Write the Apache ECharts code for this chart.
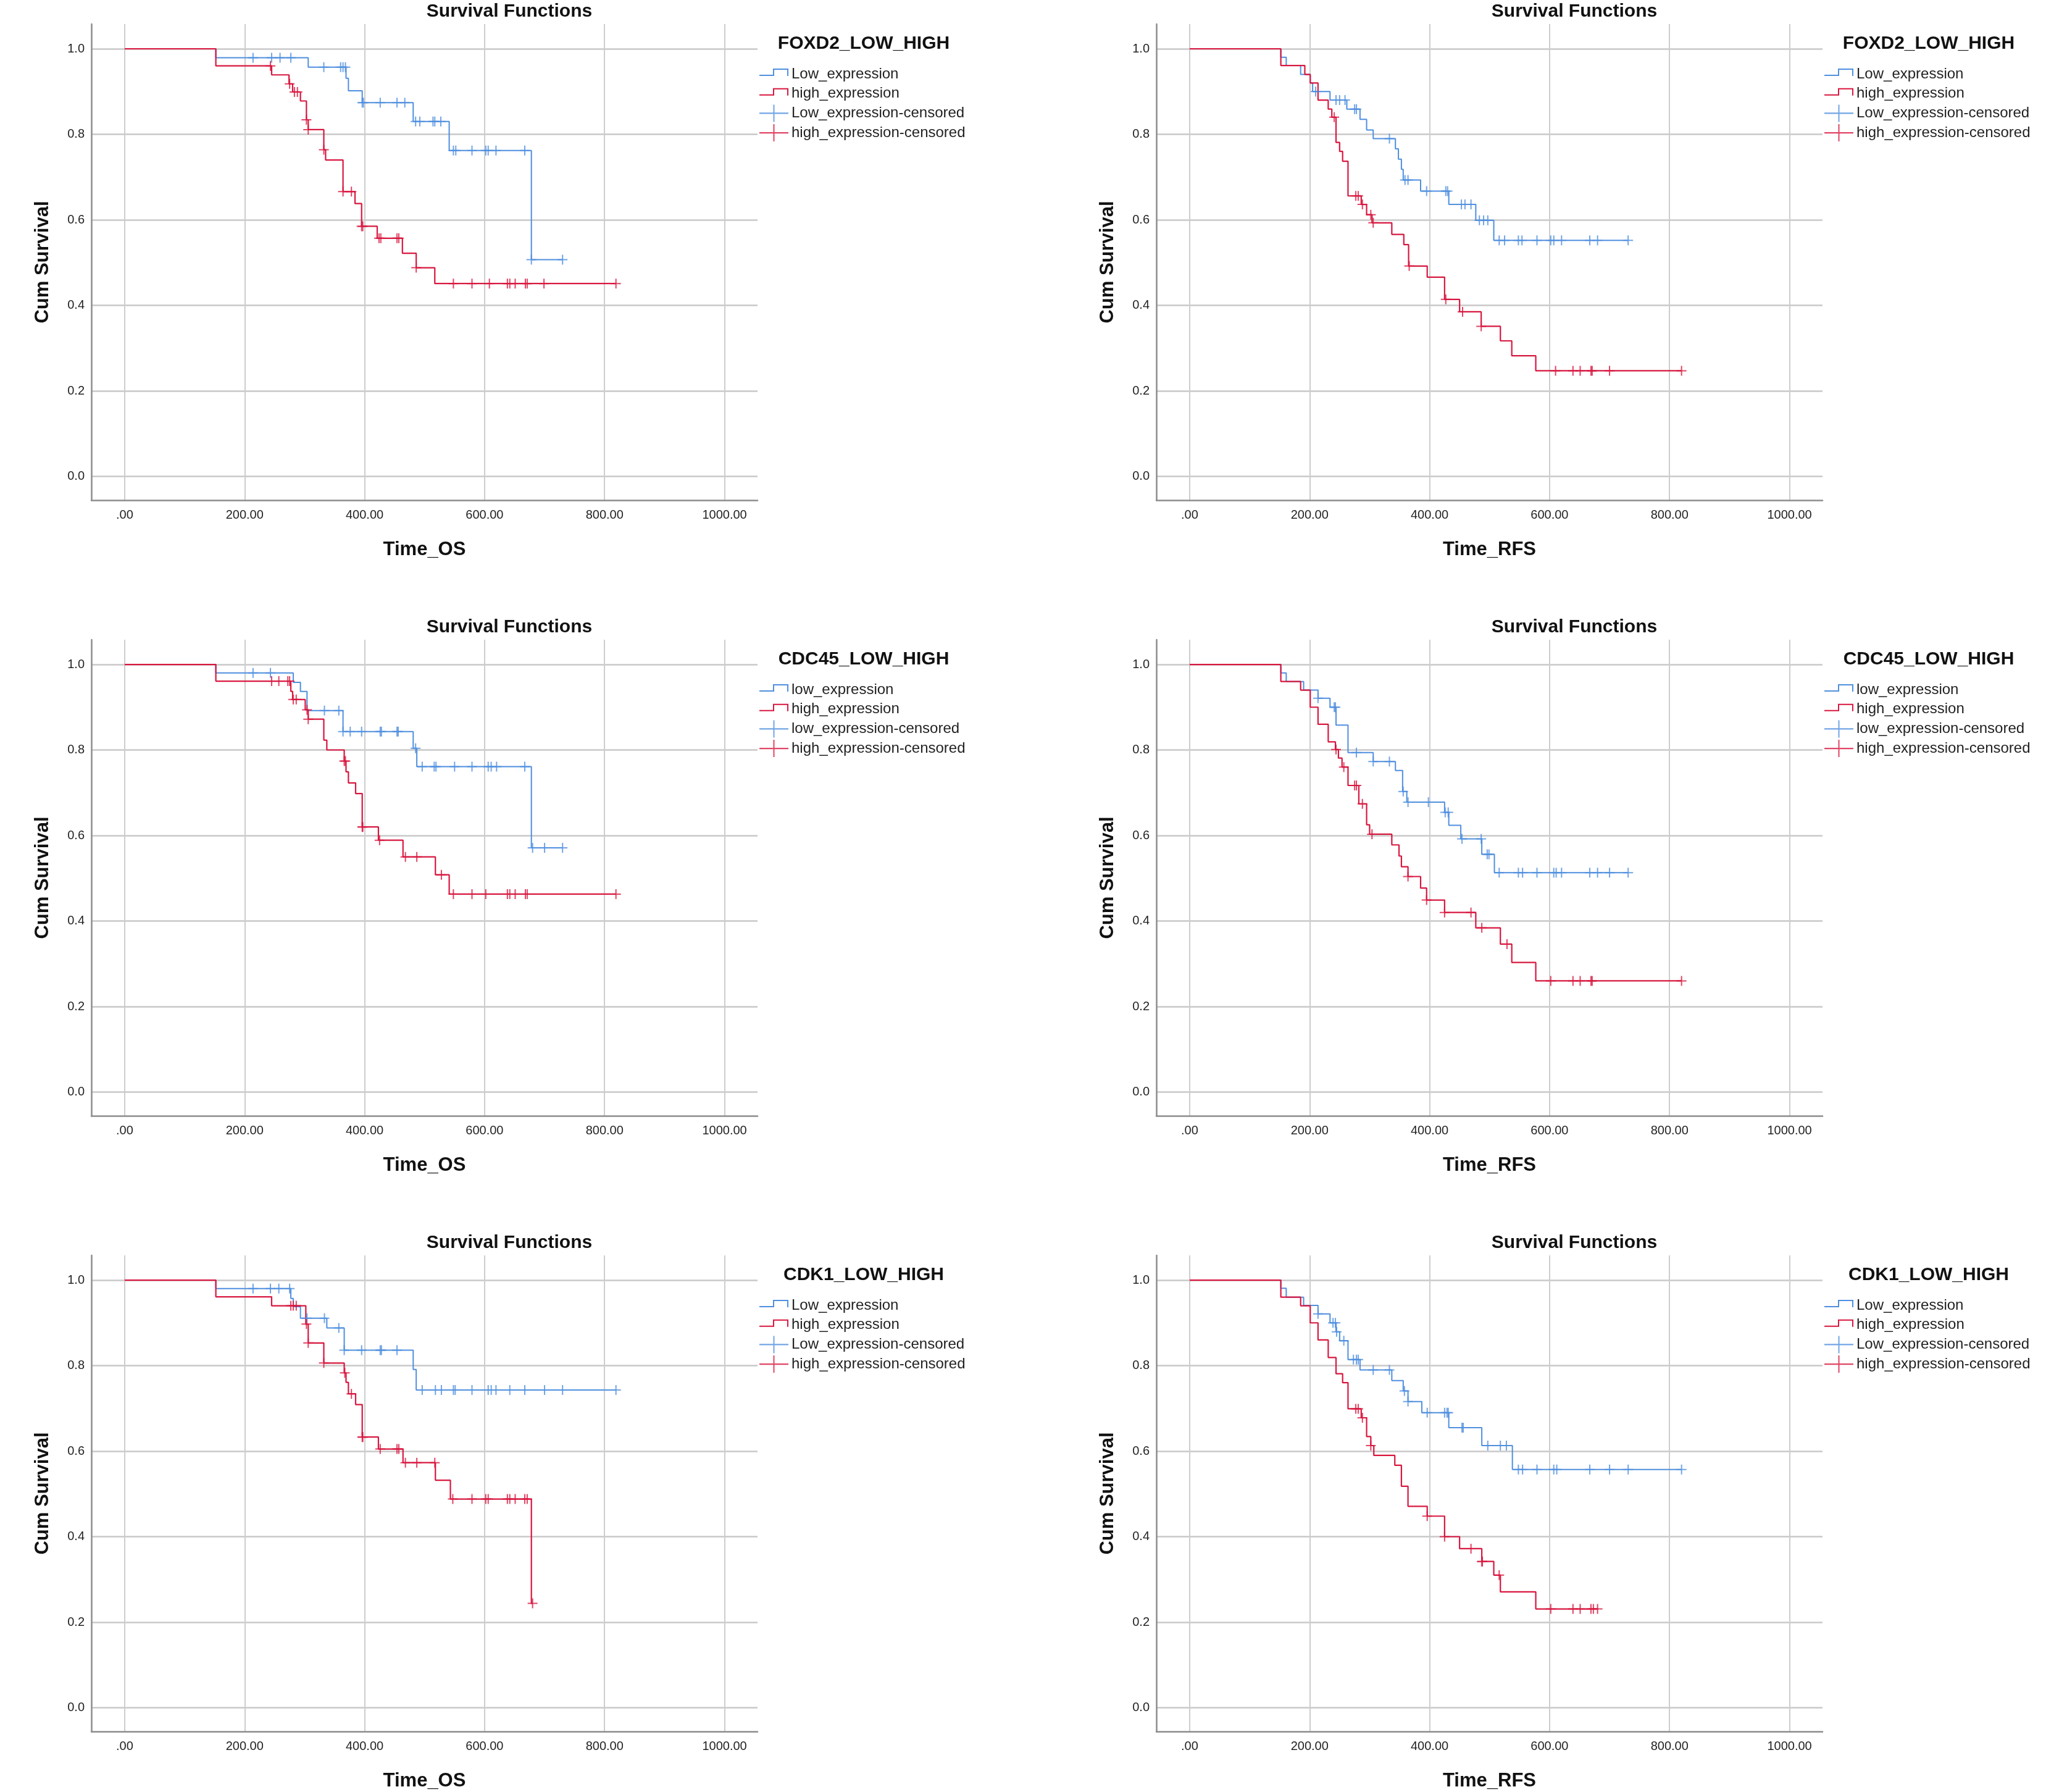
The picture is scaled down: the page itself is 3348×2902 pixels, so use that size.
<!DOCTYPE html>
<html><head><meta charset="utf-8">
<script src="https://cdn.jsdelivr.net/npm/echarts@6/dist/echarts.min.js"></script>
<style>html,body{margin:0;padding:0;background:#fff}#c{width:3348px;height:2902px}</style>
</head><body><div id="c"></div><script>
// ---------- tick labels ----------
const xTickValues = [0, 200, 400, 600, 800, 1000];
const xTickLabels = ['.00', '200.00', '400.00', '600.00', '800.00', '1000.00'];
const yTickValues = [0, 0.2, 0.4, 0.6, 0.8, 1.0];
const yTickLabels = ['0.0', '0.2', '0.4', '0.6', '0.8', '1.0'];

// ---------- FOXD2, Time_OS ----------
const foxd2OsLowTime = [152, 306, 369, 373, 396, 481, 541, 678];
const foxd2OsLowSurv = [0.979, 0.957, 0.931, 0.902, 0.874, 0.830, 0.762, 0.507];
const foxd2OsLowCens = [214, 245, 259, 277, 332, 360, 364, 368, 396, 398, 426, 454, 467, 485, 492, 514, 517, 527, 548, 552, 579, 602, 606, 619, 667, 678, 730];
const foxd2OsHighTime = [152, 245, 274, 280, 293, 303, 306, 332, 335, 364, 384, 395, 421, 463, 486, 517];
const foxd2OsHighSurv = [0.960, 0.939, 0.918, 0.899, 0.878, 0.834, 0.811, 0.764, 0.740, 0.666, 0.638, 0.585, 0.557, 0.522, 0.488, 0.451];
const foxd2OsHighCens = [243, 275, 283, 288, 303, 306, 332, 364, 378, 395, 397, 424, 427, 454, 457, 486, 548, 579, 608, 638, 642, 651, 668, 671, 699, 819];

// ---------- FOXD2, Time_RFS ----------
const foxd2RfsLowTime = [152, 161, 185, 201, 205, 234, 262, 284, 295, 306, 343, 348, 353, 356, 385, 432, 477, 507];
const foxd2RfsLowSurv = [0.980, 0.961, 0.940, 0.920, 0.900, 0.880, 0.859, 0.835, 0.810, 0.790, 0.766, 0.742, 0.718, 0.693, 0.667, 0.636, 0.599, 0.552];
const foxd2RfsLowCens = [210, 244, 250, 259, 275, 278, 333, 359, 364, 395, 427, 430, 453, 459, 469, 483, 490, 497, 516, 525, 548, 554, 579, 602, 607, 620, 667, 680, 731];
const foxd2RfsHighTime = [152, 192, 201, 214, 231, 237, 244, 250, 255, 264, 286, 295, 304, 337, 357, 365, 396, 425, 450, 486, 518, 537, 577];
const foxd2RfsHighSurv = [0.961, 0.940, 0.920, 0.880, 0.859, 0.840, 0.781, 0.760, 0.737, 0.656, 0.636, 0.612, 0.593, 0.566, 0.542, 0.492, 0.466, 0.414, 0.385, 0.351, 0.317, 0.282, 0.247];
const foxd2RfsHighCens = [241, 277, 281, 288, 302, 306, 366, 427, 455, 486, 610, 639, 651, 669, 671, 700, 820];

// ---------- CDC45, Time_OS ----------
const cdc45OsLowTime = [152, 281, 293, 304, 364, 481, 487, 678];
const cdc45OsLowSurv = [0.980, 0.958, 0.937, 0.892, 0.843, 0.804, 0.761, 0.571];
const cdc45OsLowCens = [214, 243, 333, 357, 364, 376, 395, 426, 428, 454, 456, 485, 496, 516, 519, 550, 579, 606, 611, 620, 667, 680, 700, 730];
const cdc45OsHighTime = [152, 277, 280, 301, 306, 332, 337, 366, 369, 373, 385, 396, 423, 464, 518, 541];
const cdc45OsHighSurv = [0.961, 0.937, 0.918, 0.894, 0.872, 0.823, 0.800, 0.774, 0.749, 0.723, 0.698, 0.620, 0.589, 0.550, 0.508, 0.463];
const cdc45OsHighCens = [245, 257, 272, 275, 281, 286, 304, 306, 366, 368, 396, 397, 425, 468, 487, 528, 548, 579, 602, 638, 642, 651, 668, 671, 819];

// ---------- CDC45, Time_RFS ----------
const cdc45RfsLowTime = [152, 161, 190, 214, 234, 244, 264, 306, 343, 355, 362, 425, 432, 452, 487, 508];
const cdc45RfsLowSurv = [0.980, 0.960, 0.940, 0.921, 0.900, 0.858, 0.794, 0.773, 0.752, 0.703, 0.678, 0.654, 0.624, 0.592, 0.556, 0.513];
const cdc45RfsLowCens = [214, 241, 243, 278, 306, 333, 356, 364, 398, 426, 431, 454, 486, 496, 499, 516, 548, 555, 579, 607, 611, 620, 667, 680, 700, 731];
const cdc45RfsHighTime = [152, 185, 201, 214, 231, 243, 248, 254, 264, 282, 295, 300, 337, 349, 353, 364, 385, 395, 425, 477, 518, 537, 577];
const cdc45RfsHighSurv = [0.960, 0.940, 0.900, 0.860, 0.819, 0.801, 0.781, 0.760, 0.717, 0.674, 0.625, 0.603, 0.578, 0.552, 0.527, 0.504, 0.477, 0.449, 0.420, 0.384, 0.346, 0.303, 0.260];
const cdc45RfsHighCens = [244, 257, 275, 278, 288, 304, 364, 395, 425, 469, 487, 529, 602, 639, 651, 669, 671, 820];

// ---------- CDK1, Time_OS ----------
const cdk1OsLowTime = [152, 277, 281, 293, 337, 366, 481, 486];
const cdk1OsLowSurv = [0.980, 0.957, 0.938, 0.911, 0.888, 0.836, 0.791, 0.743];
const cdk1OsLowCens = [214, 243, 257, 275, 304, 333, 357, 366, 395, 426, 428, 454, 496, 518, 528, 548, 551, 579, 606, 611, 619, 642, 667, 700, 730, 819];
const cdk1OsHighTime = [152, 245, 302, 306, 332, 366, 369, 373, 385, 396, 423, 464, 518, 543, 678];
const cdk1OsHighSurv = [0.961, 0.940, 0.897, 0.853, 0.806, 0.783, 0.761, 0.734, 0.709, 0.633, 0.605, 0.573, 0.532, 0.488, 0.244];
const cdk1OsHighCens = [277, 281, 286, 303, 306, 332, 367, 378, 396, 397, 426, 454, 457, 468, 487, 517, 547, 579, 602, 606, 638, 642, 651, 667, 671, 680];

// ---------- CDK1, Time_RFS ----------
const cdk1RfsLowTime = [152, 161, 190, 214, 234, 244, 250, 264, 284, 337, 356, 364, 387, 432, 487, 538];
const cdk1RfsLowSurv = [0.981, 0.960, 0.941, 0.921, 0.900, 0.879, 0.858, 0.814, 0.790, 0.765, 0.741, 0.716, 0.690, 0.655, 0.613, 0.557];
const cdk1RfsLowCens = [214, 239, 243, 245, 257, 273, 278, 281, 306, 333, 358, 364, 396, 425, 429, 431, 454, 456, 497, 518, 528, 548, 555, 579, 607, 612, 667, 700, 731, 820];
const cdk1RfsHighTime = [152, 185, 201, 214, 231, 244, 255, 264, 286, 295, 302, 307, 342, 353, 364, 396, 425, 450, 487, 507, 518, 577];
const cdk1RfsHighSurv = [0.960, 0.940, 0.900, 0.860, 0.819, 0.781, 0.760, 0.699, 0.678, 0.634, 0.613, 0.590, 0.567, 0.518, 0.471, 0.448, 0.400, 0.372, 0.342, 0.310, 0.271, 0.231];
const cdk1RfsHighCens = [277, 281, 288, 302, 396, 425, 469, 487, 488, 516, 602, 639, 651, 669, 673, 680];

// ---------- panel texts ----------
const groupTitles = ['FOXD2_LOW_HIGH', 'FOXD2_LOW_HIGH', 'CDC45_LOW_HIGH', 'CDC45_LOW_HIGH', 'CDK1_LOW_HIGH', 'CDK1_LOW_HIGH'];
const xAxisNames = ['Time_OS', 'Time_RFS', 'Time_OS', 'Time_RFS', 'Time_OS', 'Time_RFS'];
const lowNames = ['Low_expression', 'Low_expression', 'low_expression', 'low_expression', 'Low_expression', 'Low_expression'];
const highName = 'high_expression';
const chartTitle = 'Survival Functions';
const yAxisName = 'Cum Survival';

// ---------- build ----------
const panels = [
  [foxd2OsLowTime, foxd2OsLowSurv, foxd2OsLowCens, foxd2OsHighTime, foxd2OsHighSurv, foxd2OsHighCens],
  [foxd2RfsLowTime, foxd2RfsLowSurv, foxd2RfsLowCens, foxd2RfsHighTime, foxd2RfsHighSurv, foxd2RfsHighCens],
  [cdc45OsLowTime, cdc45OsLowSurv, cdc45OsLowCens, cdc45OsHighTime, cdc45OsHighSurv, cdc45OsHighCens],
  [cdc45RfsLowTime, cdc45RfsLowSurv, cdc45RfsLowCens, cdc45RfsHighTime, cdc45RfsHighSurv, cdc45RfsHighCens],
  [cdk1OsLowTime, cdk1OsLowSurv, cdk1OsLowCens, cdk1OsHighTime, cdk1OsHighSurv, cdk1OsHighCens],
  [cdk1RfsLowTime, cdk1RfsLowSurv, cdk1RfsLowCens, cdk1RfsHighTime, cdk1RfsHighSurv, cdk1RfsHighCens]
];

const BLUE = '#4F8FDF';
const RED = '#D8173F';
const FONT = '"Liberation Sans", Arial, Helvetica, sans-serif';
const plusSymbol = 'path://M0,7L16,7L16,9L0,9ZM7,0L9,0L9,16L7,16Z';
const stepIcon = 'path://M0,0M47,28M0,15L24,15L24,17L0,17ZM22,5L24,5L24,17L22,17ZM22,5L47,5L47,7L22,7ZM45,5L47,5L47,17L45,17Z';
const crossIcon = 'path://M0,0M47,28M0,12.8L47,12.8L47,15.2L0,15.2ZM22.5,0L24.5,0L24.5,28L22.5,28Z';

function stepPoints(times, surv, cens) {
  const pts = [[0, 1]];
  times.forEach((t, i) => pts.push([t, surv[i]]));
  const lastT = times[times.length - 1];
  const lastC = cens.length ? cens[cens.length - 1] : 0;
  if (lastC > lastT) pts.push([lastC, surv[surv.length - 1]]);
  return pts;
}
function survAt(times, surv, t) {
  let s = 1;
  for (let i = 0; i < times.length; i++) if (times[i] <= t) s = surv[i];
  return s;
}
function labelFor(values, labels, v) {
  let best = 0;
  for (let i = 1; i < values.length; i++) if (Math.abs(values[i] - v) < Math.abs(values[best] - v)) best = i;
  return labels[best];
}

const grids = [], xAxes = [], yAxes = [], series = [], legends = [], graphics = [];
const COL_DX = 1725, ROW_DY = 997;

panels.forEach((p, i) => {
  const [lowT, lowS, lowC, highT, highS, highC] = p;
  const c = i % 2, r = Math.floor(i / 2);
  const dx = c * COL_DX, dy = r * ROW_DY;
  grids.push({ left: 148 + dx, top: 39 + dy, width: 1079, height: 771, outerBoundsMode: 'none', containLabel: false });
  xAxes.push({
    type: 'value', gridIndex: i, min: -55.5, max: 1055,
    name: xAxisNames[i], nameLocation: 'middle', nameGap: 65,
    nameTextStyle: { fontSize: 31, fontWeight: 'bold', color: '#111', fontFamily: FONT },
    axisLine: { show: true, onZero: false, lineStyle: { color: '#8c8c8c', width: 2.5 } },
    axisTick: { show: false, customValues: xTickValues },
    axisLabel: { customValues: xTickValues, formatter: v => labelFor(xTickValues, xTickLabels, v), margin: 14, fontSize: 20, color: '#222', fontFamily: FONT },
    splitLine: { show: true, lineStyle: { color: '#cdcdcd', width: 2 } }
  });
  yAxes.push({
    type: 'value', gridIndex: i, min: -0.0556, max: 1.0578,
    name: yAxisName, nameLocation: 'middle', nameGap: 63, nameRotate: 90,
    nameTextStyle: { fontSize: 31, fontWeight: 'bold', color: '#111', fontFamily: FONT },
    axisLine: { show: true, onZero: false, lineStyle: { color: '#8c8c8c', width: 2.5 } },
    axisTick: { show: false, customValues: yTickValues },
    axisLabel: { customValues: yTickValues, formatter: v => labelFor(yTickValues, yTickLabels, v), margin: 11, fontSize: 20, color: '#222', fontFamily: FONT },
    splitLine: { show: true, lineStyle: { color: '#c8c8c8', width: 2.5 } }
  });
  const lowName = lowNames[i];
  series.push({
    type: 'line', name: lowName, xAxisIndex: i, yAxisIndex: i, step: 'end', symbol: 'none', silent: true,
    data: stepPoints(lowT, lowS, lowC), lineStyle: { color: BLUE, width: 2 }, itemStyle: { color: BLUE, borderWidth: 0 }, z: 3
  });
  series.push({
    type: 'line', name: highName, xAxisIndex: i, yAxisIndex: i, step: 'end', symbol: 'none', silent: true,
    data: stepPoints(highT, highS, highC), lineStyle: { color: RED, width: 2.2 }, itemStyle: { color: RED, borderWidth: 0 }, z: 4
  });
  series.push({
    type: 'scatter', name: lowName + '-censored', xAxisIndex: i, yAxisIndex: i, symbol: plusSymbol, symbolSize: 16, silent: true,
    data: lowC.map(t => [t, survAt(lowT, lowS, t)]), itemStyle: { color: BLUE, borderWidth: 0 }, z: 5
  });
  series.push({
    type: 'scatter', name: highName + '-censored', xAxisIndex: i, yAxisIndex: i, symbol: plusSymbol, symbolSize: 16, silent: true,
    data: highC.map(t => [t, survAt(highT, highS, t)]), itemStyle: { color: RED, borderWidth: 0 }, z: 6
  });
  legends.push({
    orient: 'vertical', left: 1230 + dx, top: 106 + dy, padding: 0,
    itemWidth: 47, itemHeight: 28, itemGap: 3.7, selectedMode: false,
    textStyle: { fontSize: 24, color: '#222', fontFamily: FONT },
    itemStyle: { borderWidth: 0 },
    data: [
      { name: lowName, icon: stepIcon, itemStyle: { color: BLUE, borderWidth: 0 } },
      { name: highName, icon: stepIcon, itemStyle: { color: RED, borderWidth: 0 } },
      { name: lowName + '-censored', icon: crossIcon, itemStyle: { color: BLUE, borderWidth: 0 } },
      { name: highName + '-censored', icon: crossIcon, itemStyle: { color: RED, borderWidth: 0 } }
    ]
  });
  graphics.push({
    type: 'text', x: 825 + dx, y: 19 + dy,
    style: { text: chartTitle, font: 'bold 30px ' + FONT, fill: '#111', textAlign: 'center', textVerticalAlign: 'middle', align: 'center', verticalAlign: 'middle' }
  });
  graphics.push({
    type: 'text', x: 1399 + dx, y: 71 + dy,
    style: { text: groupTitles[i], font: 'bold 30px ' + FONT, fill: '#111', textAlign: 'center', textVerticalAlign: 'middle', align: 'center', verticalAlign: 'middle' }
  });
});

const chart = echarts.init(document.getElementById('c'), null, { renderer: 'canvas', width: 3348, height: 2902 });
chart.setOption({
  backgroundColor: '#ffffff',
  animation: false,
  grid: grids, xAxis: xAxes, yAxis: yAxes, series: series, legend: legends,
  graphic: { elements: graphics }
});
</script></body></html>
